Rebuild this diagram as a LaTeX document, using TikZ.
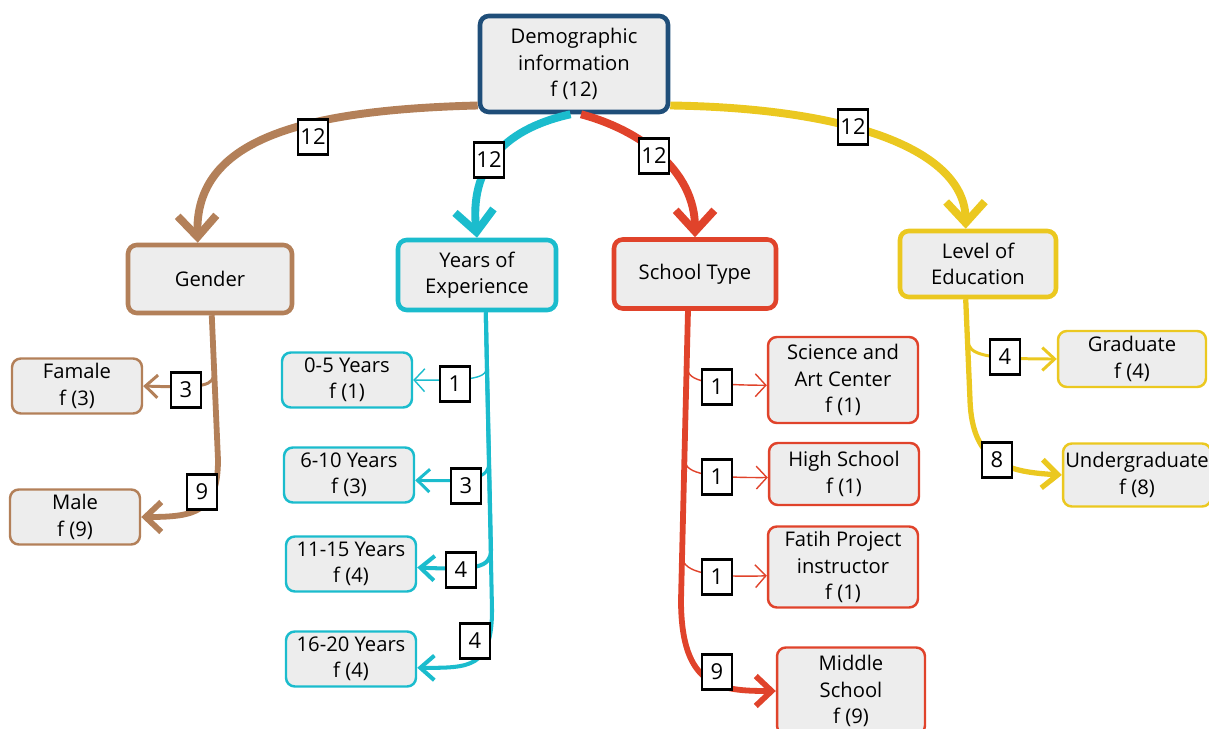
\documentclass[tikz,border=0pt]{standalone}
\usepackage{fontspec}
\setmainfont{Open Sans}
\usetikzlibrary{arrows.meta,positioning,calc}
\definecolor{demoblue}{HTML}{1F4E79}
\definecolor{brownc}{HTML}{B38059}
\definecolor{cyanc}{HTML}{1BBCCD}
\definecolor{redc}{HTML}{E0432B}
\definecolor{yellowc}{HTML}{EBC820}
\definecolor{boxgray}{HTML}{EDEDED}

\begin{document}
\begin{tikzpicture}[x=0.02cm,y=-0.02cm,
  box/.style={rounded corners=5pt,fill=boxgray,align=center,font=\fontsize{11.5}{15}\selectfont,inner sep=1pt},
  main/.style={box,draw,line width=2.6pt},
  leaf/.style={box,draw,line width=1.4pt,minimum width=2.6cm,minimum height=1.1cm},
  cnt/.style={draw=black,fill=white,line width=1.6pt,font=\fontsize{12.5}{14}\selectfont,inner sep=1pt,minimum height=19.5pt,minimum width=17pt},
  w12/.style={line width=4.5pt,-{Straight Barb[length=12pt,width=22pt]}},
  w9/.style={line width=3.3pt,-{Straight Barb[length=9pt,width=17pt]}},
  w8/.style={line width=3pt,-{Straight Barb[length=9pt,width=16pt]}},
  w4/.style={line width=2.3pt,-{Straight Barb[length=8pt,width=14pt]}},
  w3/.style={line width=1.7pt,-{Straight Barb[length=7pt,width=13pt]}},
  w1/.style={line width=0.8pt,-{Straight Barb[length=6pt,width=13pt]}}]
  \useasboundingbox (0,0) rectangle (1209,729); % 全体の大きさ

  % 上段のノード
  \node[main,draw=demoblue,minimum width=3.76cm,minimum height=1.92cm] (demo) at (574,64) {Demographic\\information\\f (12)}; % 中心
  \node[main,draw=brownc,minimum width=3.28cm,minimum height=1.36cm] (gender) at (210,279) {Gender}; % 性別
  \node[main,draw=cyanc,minimum width=3.16cm,minimum height=1.40cm] (years) at (477,275) {Years of\\Experience}; % 経験年数
  \node[main,draw=redc,minimum width=3.24cm,minimum height=1.38cm] (school) at (695,274) {School Type}; % 学校種別
  \node[main,draw=yellowc,minimum width=3.12cm,minimum height=1.32cm] (level) at (978,264) {Level of\\Education}; % 学歴

  % 下段のノード
  \node[leaf,draw=brownc] (famale) at (77,386) {Famale\\f (3)};
  \node[leaf,draw=brownc] (male) at (75,517) {Male\\f (9)};
  \node[leaf,draw=cyanc] (y05) at (347,380) {0-5 Years\\f (1)};
  \node[leaf,draw=cyanc] (y610) at (349,475) {6-10 Years\\f (3)};
  \node[leaf,draw=cyanc] (y1115) at (351,564) {11-15 Years\\f (4)};
  \node[leaf,draw=cyanc] (y1620) at (351,659) {16-20 Years\\f (4)};
  \node[leaf,draw=redc,minimum width=3cm,minimum height=1.72cm] (sac) at (843,380) {Science and\\Art Center\\f (1)};
  \node[leaf,draw=redc,minimum width=3cm,minimum height=1.24cm] (high) at (844,474) {High School\\f (1)};
  \node[leaf,draw=redc,minimum width=3cm,minimum height=1.62cm] (fatih) at (843,567) {Fatih Project\\instructor\\f (1)};
  \node[leaf,draw=redc,minimum width=2.96cm,minimum height=1.74cm] (middle) at (851,691) {Middle\\School\\f (9)};
  \node[leaf,draw=yellowc,minimum width=2.96cm,minimum height=1.12cm] (grad) at (1132,359) {Graduate\\f (4)};
  \node[leaf,draw=yellowc,minimum width=2.96cm,minimum height=1.26cm] (under) at (1137,475) {Undergraduate\\f (8)};

  % 中心から各項目への矢印
  \draw[w12,brownc] ([yshift=5pt]demo.south west) .. controls (300,110) and (195,140) .. ([xshift=-7pt]gender.north); % 性別へ
  \draw[w12,cyanc] ([xshift=-2pt]demo.south) .. controls (500,130) and (470,170) .. (years.north); % 経験年数へ
  \draw[w12,redc] ([xshift=4pt]demo.south) .. controls (640,130) and (695,170) .. (school.north); % 学校種別へ
  \draw[w12,yellowc] ([yshift=5pt]demo.south east) .. controls (850,108) and (965,150) .. ([xshift=-7pt]level.north); % 学歴へ

  % 性別の枝
  \draw[w3,brownc] ([xshift=1pt]gender.south) -- (214,372) .. controls (214,386) and (205,388) .. (famale.east);
  \draw[w9,brownc] ([xshift=1pt]gender.south) -- (218,460) .. controls (218,512) and (195,517) .. (male.east);

  % 経験年数の枝
  \draw[w1,cyanc] ([xshift=5pt]years.south) -- (487,366) .. controls (487,378) and (475,381) .. (y05.east);
  \draw[w3,cyanc] ([xshift=5pt]years.south) -- (489,462) .. controls (489,478) and (475,482) .. ([yshift=-3pt]y610.east);
  \draw[w4,cyanc] ([xshift=5pt]years.south) -- (491,550) .. controls (491,568) and (475,570) .. ([yshift=-2pt]y1115.east);
  \draw[w4,cyanc] ([xshift=5pt]years.south) -- (492,610) .. controls (492,668) and (470,668) .. ([yshift=-5pt]y1620.east);

  % 学校種別の枝
  \draw[w1,redc] ([xshift=-4pt]school.south) -- (686.7,365) .. controls (686.5,380) and (700,385) .. ([yshift=-3pt]sac.west);
  \draw[w1,redc] ([xshift=-4pt]school.south) -- (684.4,458) .. controls (684,472) and (700,478) .. ([yshift=-2pt]high.west);
  \draw[w1,redc] ([xshift=-4pt]school.south) -- (682,555) .. controls (682,570) and (700,578) .. ([yshift=-5pt]fatih.west);
  \draw[w9,redc] ([xshift=-4pt]school.south) -- (681,600) .. controls (681,688) and (720,691) .. (middle.west);

  % 学歴の枝
  \draw[w3,yellowc] ([xshift=-7pt]level.south) -- (967.7,340) .. controls (968,355) and (985,359) .. (grad.west);
  \draw[w8,yellowc] ([xshift=-7pt]level.south) -- (970,400) .. controls (972,465) and (1010,472) .. (under.west);

  % 人数のラベル
  \node[cnt] (c12a) at (313,137) {12};
  \node[cnt] (c12b) at (489,160) {12};
  \node[cnt] (c12c) at (654,156) {12};
  \node[cnt] (c12d) at (853,127) {12};
  \node[cnt] (c3a) at (186,390) {3};
  \node[cnt] (c9a) at (202,492) {9};
  \node[cnt] (c1a) at (455,384) {1};
  \node[cnt] (c3b) at (466,486) {3};
  \node[cnt] (c4a) at (461,570) {4};
  \node[cnt] (c4b) at (475,641) {4};
  \node[cnt] (c1b) at (717,387) {1};
  \node[cnt] (c1c) at (717,477) {1};
  \node[cnt] (c1d) at (717,577) {1};
  \node[cnt] (c9b) at (717,672) {9};
  \node[cnt] (c4c) at (1005,357) {4};
  \node[cnt] (c8a) at (997,460) {8};
\end{tikzpicture}
\end{document}
